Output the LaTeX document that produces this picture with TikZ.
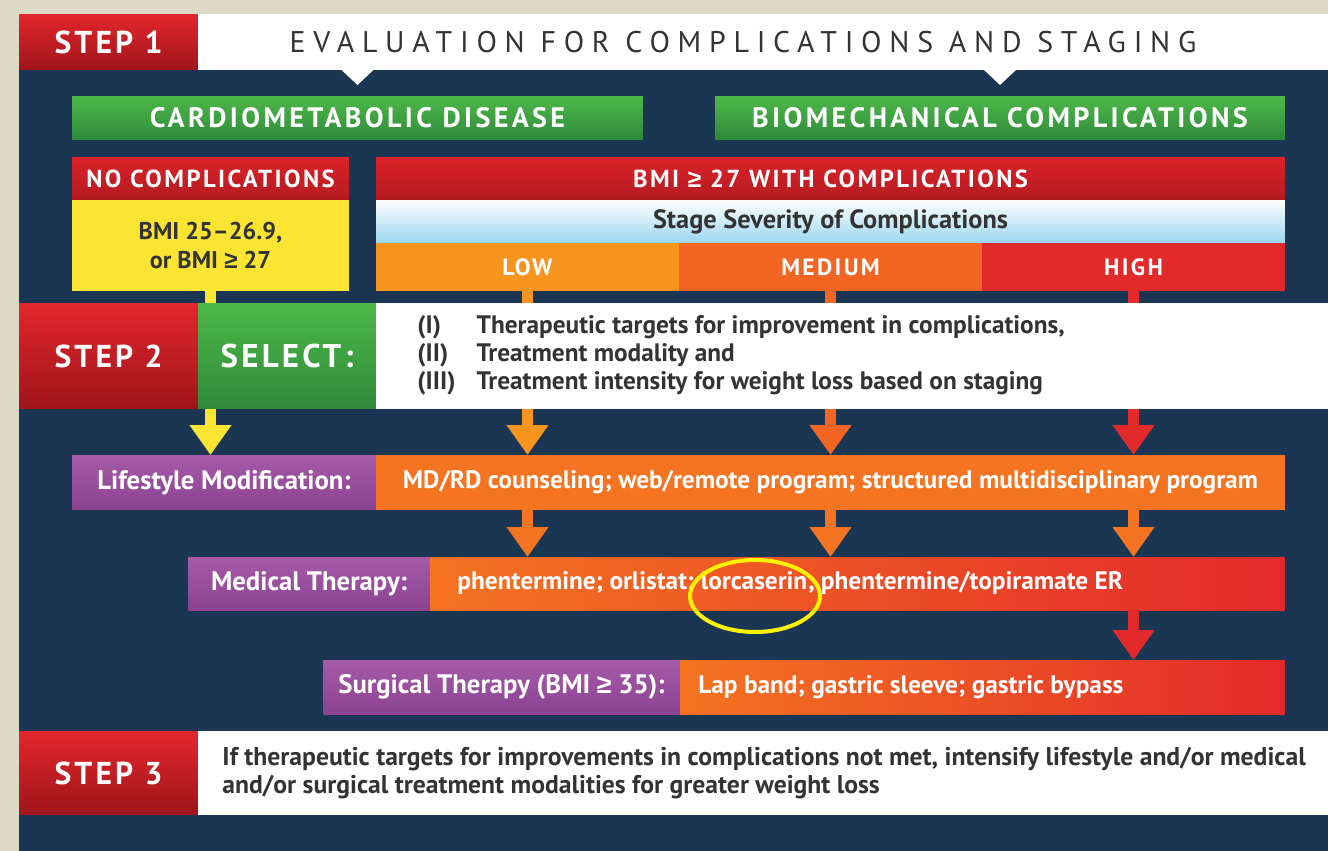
\documentclass[tikz,border=0pt]{standalone}
\usepackage{fontspec}
\setmainfont{PT Sans}
\newfontfamily\trackfont[LetterSpace=10]{PT Sans}
\newfontfamily\greentrackfont[LetterSpace=12]{PT Sans}
\newfontfamily\widetrackfont[LetterSpace=26]{PT Sans}
\newfontfamily\symfont{Liberation Sans}
\newcommand{\geqsign}{{\symfont ≥}}
\usetikzlibrary{shapes, arrows.meta, positioning, calc}
\definecolor{paper}{HTML}{DDD9C7}
\definecolor{navy}{HTML}{1B3652}
\definecolor{stepTop}{HTML}{E3262D}
\definecolor{stepBot}{HTML}{9E151B}
\definecolor{greenTop}{HTML}{4DB848}
\definecolor{greenBot}{HTML}{2F8A3B}
\definecolor{redTop}{HTML}{DC2229}
\definecolor{redBot}{HTML}{B31B21}
\definecolor{bmiYellow}{HTML}{FBE432}
\definecolor{skyBlue}{HTML}{9AD6F0}
\definecolor{lowOrange}{HTML}{F7941D}
\definecolor{medOrange}{HTML}{F26522}
\definecolor{highRed}{HTML}{E32A2B}
\definecolor{purpleTop}{HTML}{A65AA8}
\definecolor{purpleBot}{HTML}{8A4391}
\definecolor{lifeOrange}{HTML}{F47421}
\definecolor{darkText}{HTML}{333333}
\definecolor{ringYellow}{HTML}{FFF200}

\begin{document}
\begin{tikzpicture}[
        x=0.02cm, y=-0.02cm,
        base/.style={rectangle, inner sep=0pt, outer sep=0pt},
        stepbox/.style={base, top color=stepTop, bottom color=stepBot, minimum width=3.58cm, text=white, font=\trackfont\fontsize{18}{21}\selectfont\bfseries},
        whitebar/.style={base, fill=white, text=darkText},
        greenbar/.style={base, top color=greenTop, bottom color=greenBot, minimum height=0.88cm, text=white, font=\greentrackfont\fontsize{16}{19}\selectfont\bfseries},
        redbar/.style={base, top color=redTop, bottom color=redBot, minimum height=0.86cm, text=white, font=\trackfont\fontsize{14}{16}\selectfont\bfseries},
        level/.style={base, minimum width=6.06cm, minimum height=0.96cm, text=white, font=\trackfont\fontsize{13.4}{16}\selectfont\bfseries},
        purplebox/.style={base, top color=purpleTop, bottom color=purpleBot, text=white, font=\fontsize{15.2}{17}\selectfont\bfseries},
        therapy/.style={base, left color=lifeOrange, right color=highRed},
        rowtext/.style={text=white, inner sep=0pt, font=\fontsize{14.4}{16}\selectfont\bfseries},
        flow/.style={line width=0.22cm, -{Triangle[width=0.8cm, length=0.6cm]}},
        ring/.style={ellipse, draw=ringYellow, line width=0.08cm, minimum width=2.6cm, minimum height=1.44cm}
    ]
    \fill[paper] (0,0) rectangle (1328,851);
    \fill[navy] (19,14) rectangle (1328,851);
    \node[stepbox, minimum height=1.12cm] (step1) at (108.5,42) {STEP 1};
    \node[whitebar, minimum width=22.6cm, minimum height=1.12cm, font=\widetrackfont\fontsize{17}{20}\selectfont] (title) at (763,42) {EVALUATION FOR COMPLICATIONS AND STAGING\kern0.8cm};
    \node[greenbar, minimum width=11.42cm] (cardio) at (357.5,118) {CARDIOMETABOLIC DISEASE};
    \node[greenbar, minimum width=11.4cm] (biomech) at (1000,118) {BIOMECHANICAL COMPLICATIONS};
    \fill[white] (title.south -| cardio) ++(-17,-1) -- ++(34,0) -- ++(-17,16) -- cycle;
    \fill[white] (title.south -| biomech) ++(-17,-1) -- ++(34,0) -- ++(-17,16) -- cycle;
    \node[redbar, minimum width=5.54cm] (nocomp) at (210.5,178.5) {NO COMPLICATIONS};
    \node[base, fill=bmiYellow, minimum width=5.54cm, minimum height=1.82cm, text=darkText, align=center, font=\fontsize{13.8}{17}\selectfont\bfseries] (bmi) at (210.5,245.5) {BMI 25--26.9,\\or BMI \geqsign{} 27};
    \node[redbar, minimum width=18.18cm] (withcomp) at (830.5,178.5) {BMI \geqsign{} 27 WITH COMPLICATIONS};
    \node[base, top color=white, bottom color=skyBlue, minimum width=18.18cm, minimum height=0.86cm, text=darkText, font=\fontsize{15}{17}\selectfont\bfseries] (stage) at (830.5,221.5) {Stage Severity of Complications};
    \node[level, fill=lowOrange] (low) at (527.5,267) {LOW};
    \node[level, fill=medOrange] (medium) at (830.5,267) {MEDIUM};
    \node[level, fill=highRed] (high) at (1133.5,267) {HIGH};
    \node[purplebox, minimum width=6.08cm, minimum height=1.1cm] (lifeL) at (224,482.5) {Lifestyle Modification:};
    \node[base, fill=lifeOrange, minimum width=18.18cm, minimum height=1.1cm, text=white, font=\fontsize{14.4}{16}\selectfont\bfseries] (lifeR) at (830.5,482.5) {MD/RD counseling; web/remote program; structured multidisciplinary program};
    \node[purplebox, minimum width=4.84cm, minimum height=1.06cm] (medL) at (309,583.5) {Medical Therapy:};
    \node[therapy, minimum width=17.1cm, minimum height=1.06cm] (medR) at (857.5,583.5) {};
    \node[rowtext, anchor=west] (medT) at ([xshift=0.54cm]medR.west) {phentermine; orlistat; lorcaserin; phentermine/topiramate ER};
    \node[purplebox, minimum width=7.14cm, minimum height=1.08cm] (surL) at (501.5,687) {Surgical Therapy (BMI \geqsign{} 35):};
    \node[therapy, minimum width=12.1cm, minimum height=1.08cm] (surR) at (982.5,687) {};
    \node[rowtext, anchor=west] (surT) at ([xshift=0.36cm]surR.west) {Lap band; gastric sleeve; gastric bypass};
    \draw[flow, draw=bmiYellow] (bmi.south) -- (bmi.south |- lifeL.north);
    \draw[flow, draw=lowOrange] (low.south) -- (low.south |- lifeR.north);
    \draw[flow, draw=medOrange] (medium.south) -- (medium.south |- lifeR.north);
    \draw[flow, draw=highRed] (high.south) -- (high.south |- lifeR.north);
    \draw[flow, draw=lifeOrange] (lifeR.south -| low) -- (low |- medR.north);
    \draw[flow, draw=lifeOrange] (lifeR.south -| medium) -- (medium |- medR.north);
    \draw[flow, draw=lifeOrange] (lifeR.south -| high) -- (high |- medR.north);
    \draw[flow, draw=highRed] (medR.south -| high) -- (high |- surR.north);
    \node[stepbox, minimum height=2.12cm] (step2) at (108.5,356) {STEP 2};
    \node[base, top color=greenTop, bottom color=greenBot, minimum width=3.56cm, minimum height=2.12cm, text=white, font=\trackfont\fontsize{18.7}{21}\selectfont\bfseries] (select) at (287,356) {SELECT:};
    \node[whitebar, minimum width=19.04cm, minimum height=2.12cm] (targets) at (852,356) {};
    \node[anchor=west, inner sep=0pt, text=darkText, font=\fontsize{14.4}{16}\selectfont\bfseries] (targetsT) at ([xshift=0.82cm]targets.west) {\begin{tabular}{@{}l@{\hspace{12pt}}l@{}}(I) & Therapeutic targets for improvement in complications,\\(II) & Treatment modality and\\(III) & Treatment intensity for weight loss based on staging\end{tabular}};
    \node[stepbox, minimum height=1.68cm] (step3) at (108.5,773) {STEP 3};
    \node[whitebar, minimum width=22.6cm, minimum height=1.68cm] (note) at (763,773) {};
    \node[anchor=west, inner sep=0pt, align=left, text=darkText, font=\fontsize{14.6}{15.5}\selectfont\bfseries] (noteT) at ([xshift=0.48cm]note.west) {If therapeutic targets for improvements in complications not met, intensify lifestyle and/or medical\\and/or surgical treatment modalities for greater weight loss};
    \node[ring] (mark) at (755,596) {};
\end{tikzpicture}
\end{document}
